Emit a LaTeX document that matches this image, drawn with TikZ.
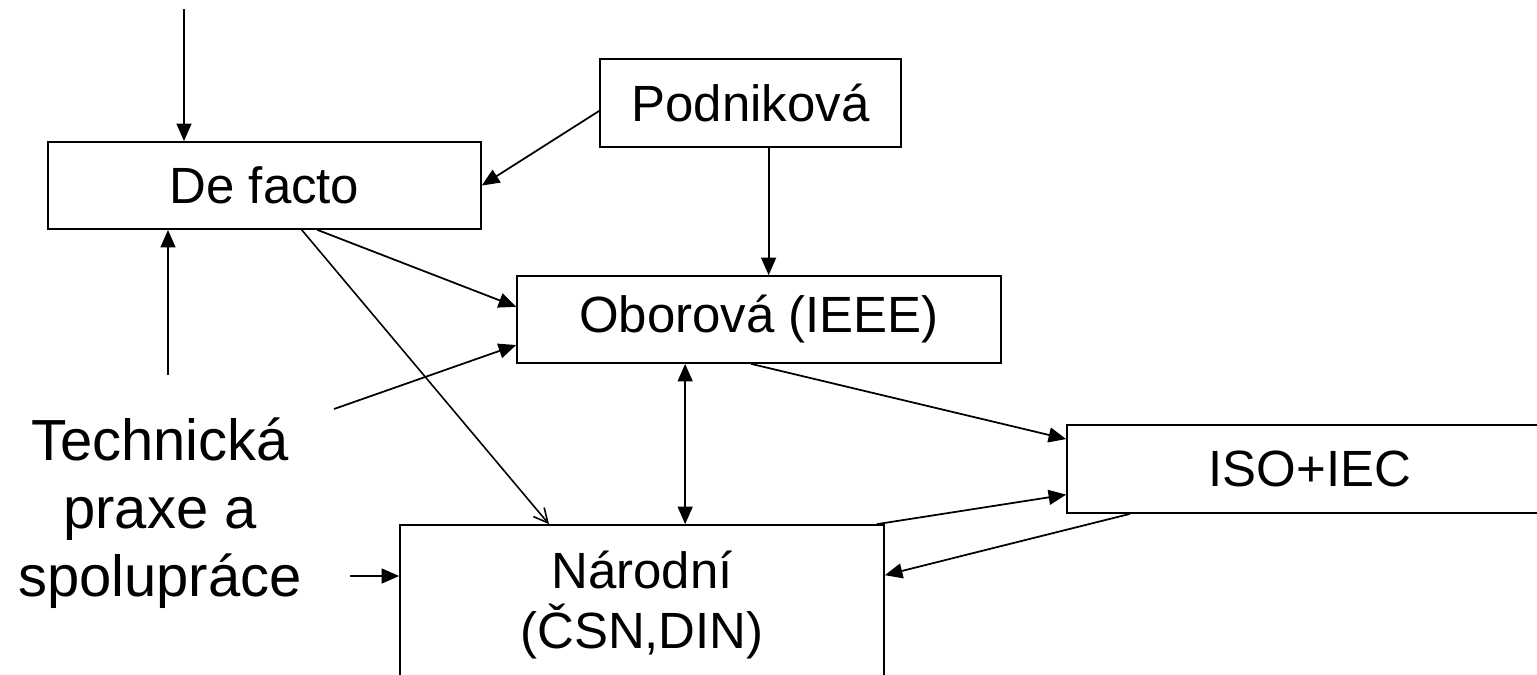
\documentclass[tikz,border=0pt]{standalone}
\usepackage{fontspec}
\setmainfont{Liberation Sans}
\usetikzlibrary{arrows.meta}

\begin{document}
\begin{tikzpicture}[x=0.02cm,y=-0.02cm,
  box/.style={draw,line width=1pt,inner sep=0pt,align=center,font=\fontsize{29pt}{34pt}\selectfont},
  pf/.style={line width=1pt,-{Triangle[length=10pt,width=8.5pt]}},
  ]
  \useasboundingbox (0,0) rectangle (1537,674);
  \node[box,minimum width=8.66cm,minimum height=1.74cm] (defacto) at (264.5,185.5) {De facto};
  \node[box,minimum width=6.02cm,minimum height=1.76cm] (podnik) at (750.5,103) {Podniková};
  \node[box,minimum width=9.68cm,minimum height=1.74cm] (obor) at (759,319.5) {Oborová (IEEE)};
  \node[box,minimum width=9.72cm,minimum height=1.76cm] (iso) at (1310,469) {ISO+IEC};
  \node[box,minimum width=9.68cm,minimum height=3.2cm] (narodni) at (642,605) {Národní\\(ČSN,DIN)};
  \node[align=center,inner sep=0pt,font=\fontsize{33pt}{38.7pt}\selectfont] (praxe) at (160,513) {Technická\\praxe a\\spolupráce};
  \coordinate (oben) at (184,9);
  \coordinate (praxe1) at (168,375);
  \coordinate (praxe2) at (334,409);
  \coordinate (praxe3) at (350,576);
  \draw[pf] (oben) -- (oben |- defacto.north);
  \draw[pf] (podnik.-177.3) -- (defacto.-0.5);
  \draw[pf] (praxe1) -- (praxe1 |- defacto.south);
  \draw[pf] (podnik.-68.3) -- (podnik.-68.3 |- obor.north);
  \draw[pf] (defacto.-40.2) -- (obor.177.3);
  \draw[line width=0.9pt,-{Straight Barb[length=8pt,width=8pt]}] (defacto.-50.8) -- (narodni.139);
  \draw[pf] (praxe2) -- (obor.-174.5);
  \draw[pf,{Triangle[length=10pt,width=8.5pt]}-{Triangle[length=10pt,width=8.5pt]}] (obor.-149.9) -- (obor.-149.9 |- narodni.north);
  \draw[pf] (obor.-100.4) -- (iso.173.4);
  \draw[pf] (narodni.19.5) -- (iso.-174.4);
  \draw[pf] (iso.-166.2) -- (narodni.7.07);
  \draw[pf] (praxe3) -- (praxe3 -| narodni.west);
\end{tikzpicture}
\end{document}
